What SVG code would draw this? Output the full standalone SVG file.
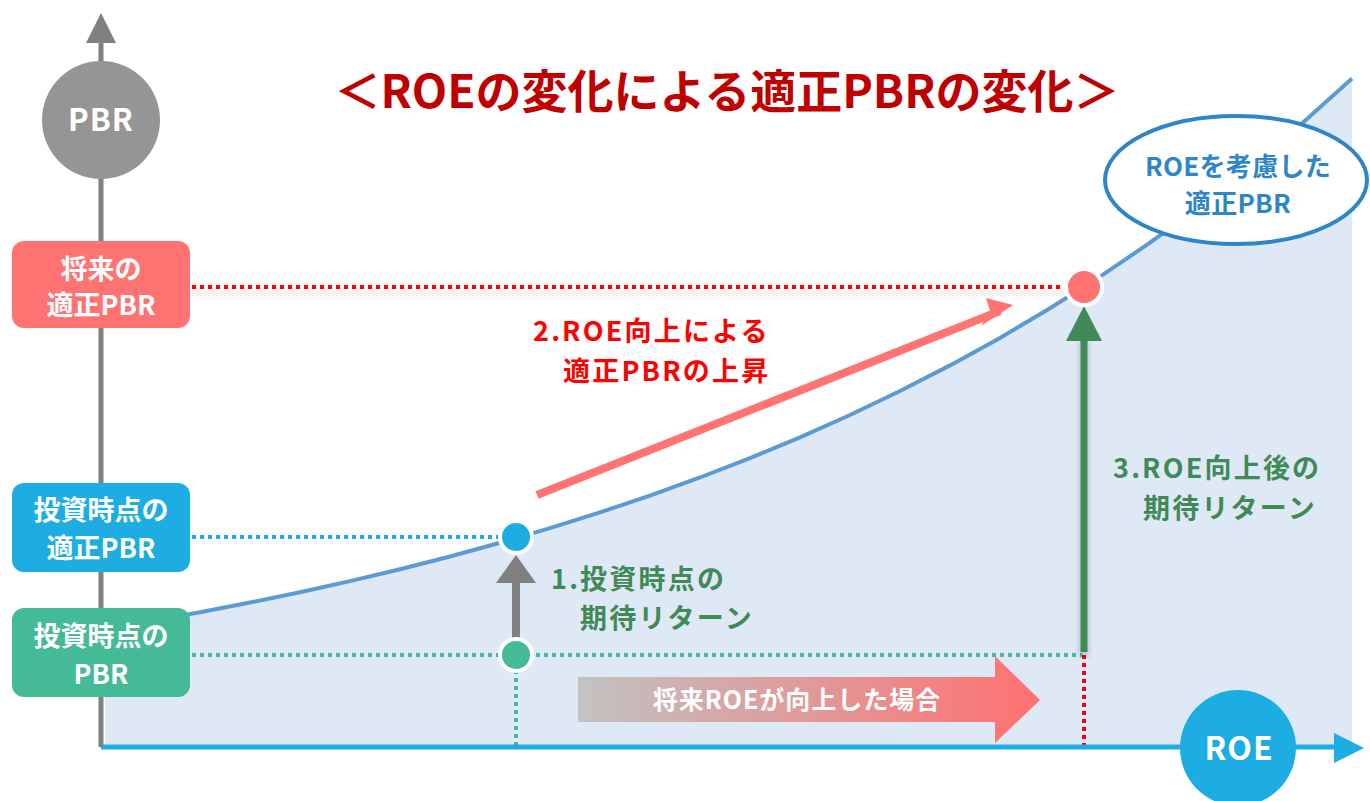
<svg xmlns="http://www.w3.org/2000/svg" width="1370" height="801" viewBox="0 0 1370 801">
<defs>
<style>
text{font-family:"Noto Sans CJK JP","Noto Sans",sans-serif;font-weight:bold}
.w{fill:#fff}
.box{font-size:27px}
.lbl{font-size:27px;letter-spacing:2.2px}
</style>
<linearGradient id="g1" x1="0" y1="0" x2="1" y2="0">
<stop offset="0" stop-color="#C2C2C2"/>
<stop offset="1" stop-color="#FF7070"/>
</linearGradient>
<filter id="sh" filterUnits="userSpaceOnUse" x="0" y="0" width="1370" height="801">
<feGaussianBlur in="SourceAlpha" stdDeviation="3"/>
<feOffset dy="4"/>
<feComponentTransfer><feFuncA type="linear" slope="0.25"/></feComponentTransfer>
<feMerge><feMergeNode/><feMergeNode in="SourceGraphic"/></feMerge>
</filter>
</defs>
<rect width="1370" height="801" fill="#fff"/>
<g id="area">
<path d="M105,745 L105,628.7 L150,621.1 L200,612.2 L250,602.5 L300,592.2 L350,581.1 L400,569.2 L450,556.5 L500,542.8 L550,528.2 L600,512.4 L650,495.6 L700,477.5 L750,458.1 L800,437.3 L850,415 L900,391 L950,365.4 L1000,337.9 L1050,308.3 L1100,276.7 L1150,242.7 L1200,206.3 L1250,167.2 L1300,125.3 L1352,78.5 L1352,745 Z" fill="#DEE9F5"/>
</g>
<g id="connectors">
<path d="M105,628.7 L150,621.1 L200,612.2 L250,602.5 L300,592.2 L350,581.1 L400,569.2 L450,556.5 L500,542.8 L550,528.2 L600,512.4 L650,495.6 L700,477.5 L750,458.1 L800,437.3 L850,415 L900,391 L950,365.4 L1000,337.9 L1050,308.3 L1100,276.7 L1150,242.7 L1200,206.3 L1250,167.2 L1300,125.3 L1352,78.5" fill="none" stroke="#5B9BD5" stroke-width="4"/>
<line x1="192" y1="287" x2="1068" y2="287" stroke="#FF0000" stroke-width="4" stroke-dasharray="4 4" filter="url(#sh)"/>
<line x1="192" y1="537" x2="500" y2="537" stroke="#1DADE3" stroke-width="4" stroke-dasharray="4 4"/>
<line x1="192" y1="655" x2="1082" y2="655" stroke="#45BA96" stroke-width="4" stroke-dasharray="4 4"/>
<line x1="516" y1="670" x2="516" y2="747" stroke="#45BA96" stroke-width="4" stroke-dasharray="4 4"/>
<line x1="1084" y1="655" x2="1084" y2="745" stroke="#FF0000" stroke-width="4" stroke-dasharray="4 4"/>
<line x1="101" y1="747" x2="101" y2="40" stroke="#808080" stroke-width="5"/>
<polygon points="101,13 86,43 116,43" fill="#808080"/>
<line x1="101" y1="747" x2="1340" y2="747" stroke="#1DADE3" stroke-width="5"/>
<polygon points="1364,748 1334,733 1334,763" fill="#1DADE3"/>
<line x1="516" y1="640" x2="516" y2="580" stroke="#808080" stroke-width="8"/>
<polygon points="516,555 496,583 536,583" fill="#808080"/>
<g filter="url(#sh)">
<line x1="1084" y1="652" x2="1084" y2="336" stroke="#3F8A56" stroke-width="7"/>
</g>
<polygon points="1084,306 1066,341 1102,341" fill="#3F8A56"/>
<line x1="537" y1="495" x2="1000" y2="311" stroke="#FF7373" stroke-width="8"/>
<polygon points="1013,305 986,298 990,311 981,326" fill="#FF7373"/>
</g>
<g id="pbr-axis">
<circle cx="101" cy="120" r="59" fill="#959595"/>
<text x="101" y="131" text-anchor="middle" class="w" font-size="31" letter-spacing="1">PBR</text>
</g>
<g id="roe-axis">
<circle cx="1238" cy="748" r="58" fill="#1DADE3"/>
<text x="1239" y="760" text-anchor="middle" class="w" font-size="32" letter-spacing="1">ROE</text>
</g>
<g id="title">
<text x="727" y="108" text-anchor="middle" fill="#C00000" font-size="46">＜ROEの変化による適正PBRの変化＞</text>
</g>
<g id="future-pbr">
<rect x="12" y="241" width="178" height="87" rx="12" fill="#FF7373"/>
<text x="101" y="279" text-anchor="middle" class="w box">将来の</text>
<text x="101" y="315" text-anchor="middle" class="w box">適正PBR</text>
</g>
<g id="invest-fair-pbr">
<rect x="12" y="483" width="178" height="89" rx="12" fill="#1DADE3"/>
<text x="101" y="520" text-anchor="middle" class="w box">投資時点の</text>
<text x="101" y="558" text-anchor="middle" class="w box">適正PBR</text>
</g>
<g id="invest-pbr">
<rect x="12" y="608" width="178" height="89" rx="12" fill="#45BA96"/>
<text x="101" y="646" text-anchor="middle" class="w box">投資時点の</text>
<text x="101" y="684" text-anchor="middle" class="w box">PBR</text>
</g>
<g id="dot-blue"><circle cx="516" cy="537" r="16" fill="#1DADE3" stroke="#fff" stroke-width="4"/></g>
<g id="dot-green"><circle cx="516" cy="655" r="16" fill="#45BA96" stroke="#fff" stroke-width="4"/></g>
<g id="dot-red"><circle cx="1084" cy="287" r="18" fill="#FF7373" stroke="#fff" stroke-width="4"/></g>
<g id="ellipse-label">
<ellipse cx="1236" cy="180" rx="131" ry="64" fill="#fff" stroke="#2E86C8" stroke-width="4"/>
<text x="1238" y="176" text-anchor="middle" fill="#2E86C8" font-size="26" letter-spacing="0.3">ROEを考慮した</text>
<text x="1238" y="213" text-anchor="middle" fill="#2E86C8" font-size="26" letter-spacing="0.3">適正PBR</text>
</g>
<g id="label-2">
<text x="533" y="341" fill="#FF0000" class="lbl">2.ROE向上による</text>
<text x="563" y="381" fill="#FF0000" class="lbl">適正PBRの上昇</text>
</g>
<g id="label-1">
<text x="551" y="589" fill="#3F8A56" class="lbl">1.投資時点の</text>
<text x="580" y="628" fill="#3F8A56" class="lbl">期待リターン</text>
</g>
<g id="label-3">
<text x="1113" y="478" fill="#3F8A56" class="lbl">3.ROE向上後の</text>
<text x="1143" y="518" fill="#3F8A56" class="lbl">期待リターン</text>
</g>
<g id="future-arrow">
<polygon points="578,677 995,677 995,656 1040,700 995,743 995,722 578,722" fill="url(#g1)"/>
<text x="797" y="709" text-anchor="middle" class="w" font-size="25" letter-spacing="1">将来ROEが向上した場合</text>
</g>
</svg>
